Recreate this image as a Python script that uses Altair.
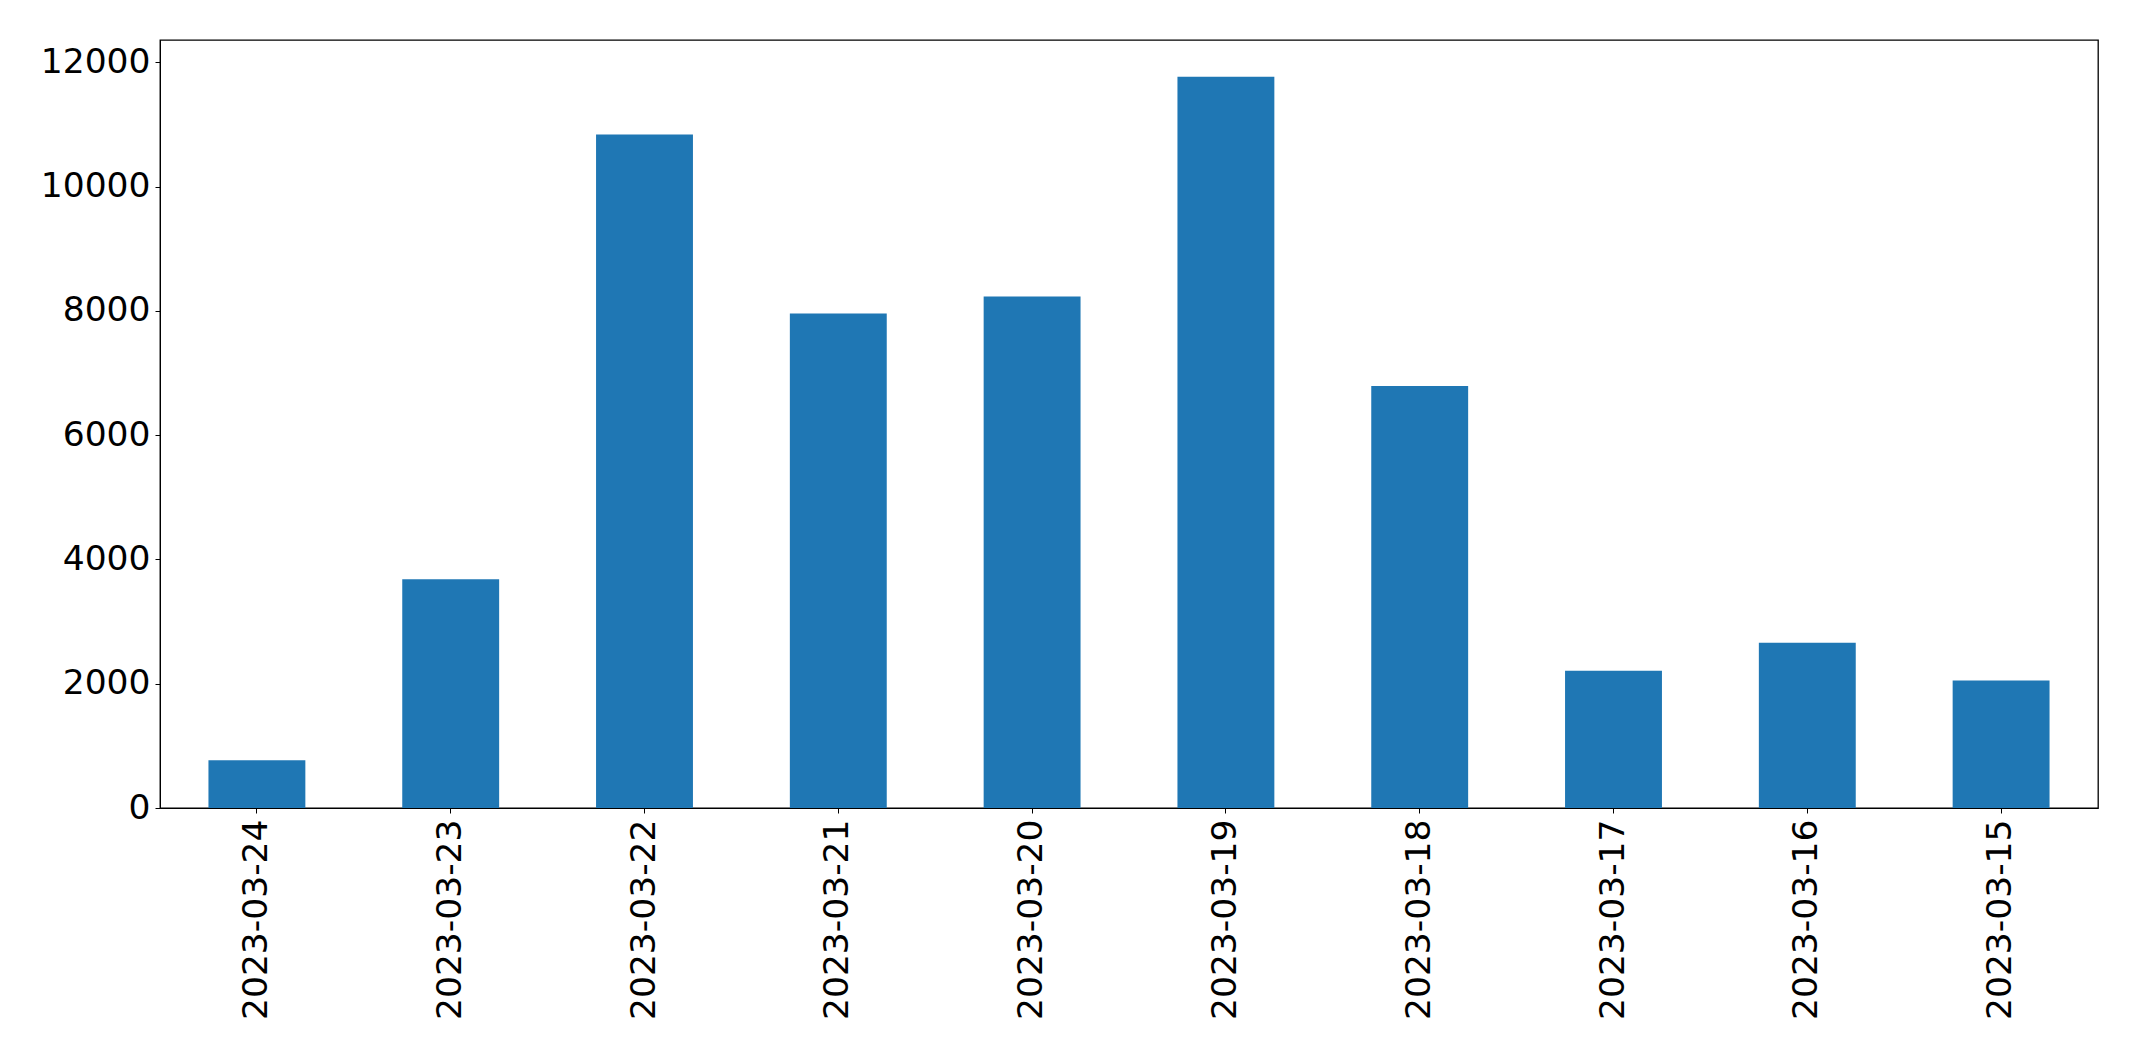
import altair as alt
import pandas as pd

dates = ["2023-03-24", "2023-03-23", "2023-03-22", "2023-03-21", "2023-03-20",
         "2023-03-19", "2023-03-18", "2023-03-17", "2023-03-16", "2023-03-15"]
counts = [770, 3680, 10840, 7960, 8230, 11770, 6790, 2210, 2660, 2050]
y_ticks = [0, 2000, 4000, 6000, 8000, 10000, 12000]

df = pd.DataFrame({"date": dates, "count": counts})

chart = alt.Chart(df).mark_bar(color="#1f77b4").encode(
    x=alt.X("date:N", sort=None, title=None,
            scale=alt.Scale(paddingInner=0.5, paddingOuter=0.25),
            axis=alt.Axis(labelAngle=-90, labelFontSize=34.5, labelFont="DejaVu Sans",
                          labelColor="black", tickColor="black", tickSize=5,
                          labelPadding=6, domainColor="black", grid=False,
                          labelLimit=0)),
    y=alt.Y("count:Q", title=None,
            scale=alt.Scale(domain=[0, 12360], nice=False),
            axis=alt.Axis(values=y_ticks, format="d", labelFontSize=34.5,
                          labelFont="DejaVu Sans",
                          labelColor="black", tickColor="black", tickSize=5,
                          labelPadding=5, domainColor="black", grid=False)),
).properties(
    width=1938, height=768,
    autosize=alt.AutoSizeParams(type="none"),
    padding={"left": 160, "top": 40, "right": 39, "bottom": 253},
).configure(background="white").configure_view(stroke="black", strokeWidth=1.3)

chart.save("out.html", embed_options={"renderer": "svg", "actions": False})
